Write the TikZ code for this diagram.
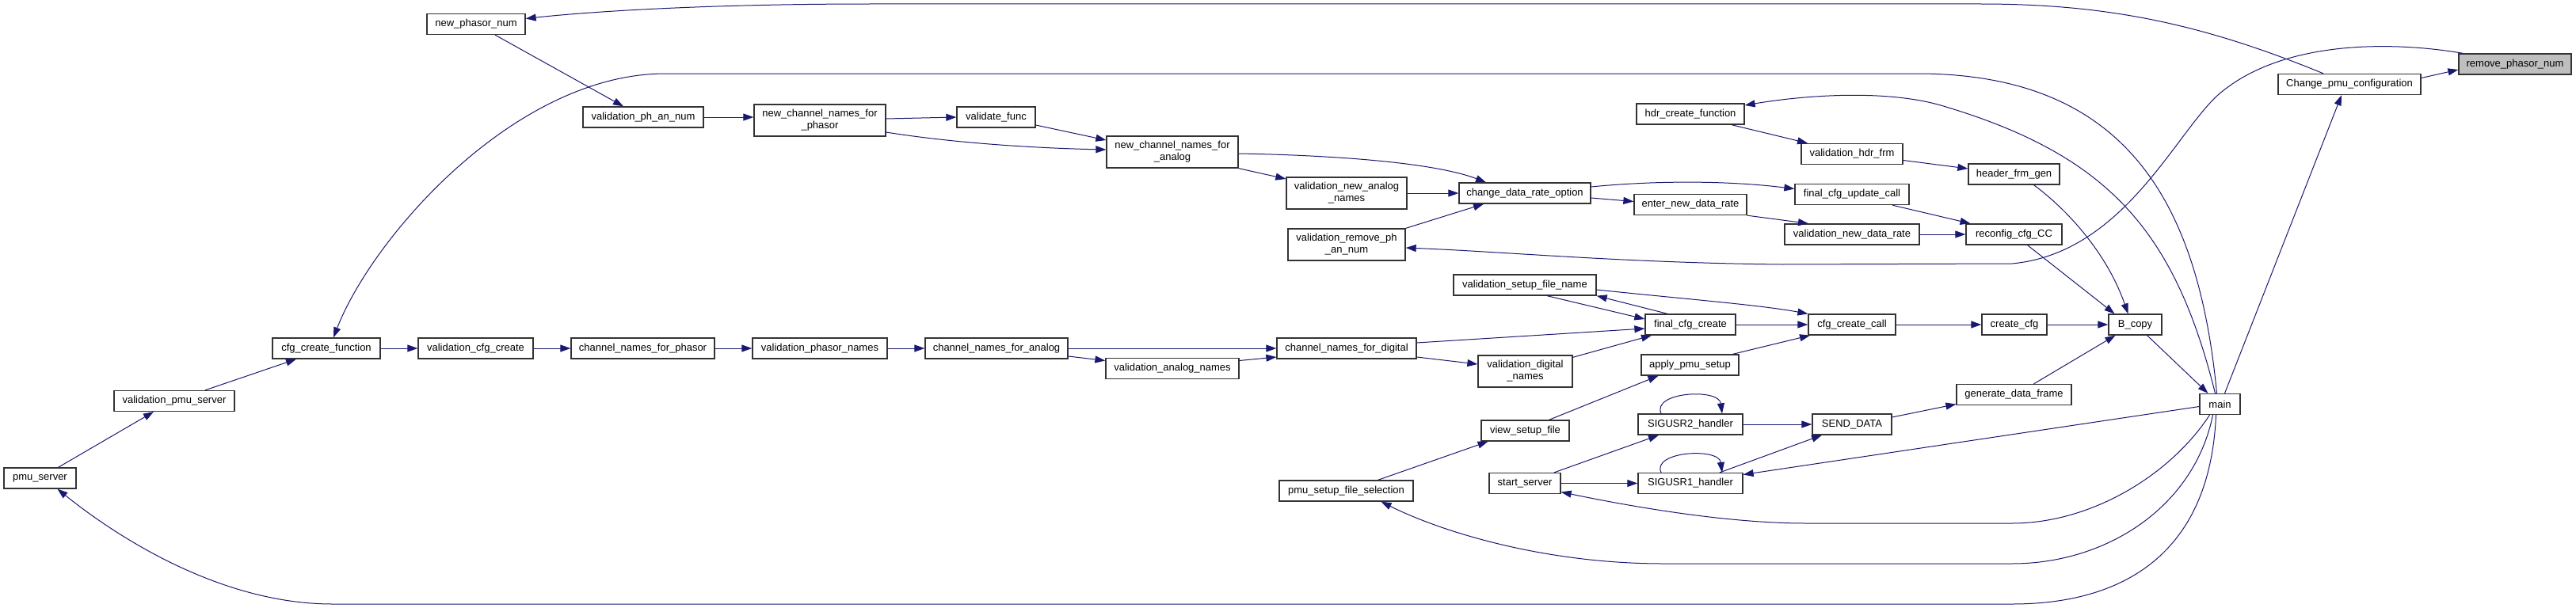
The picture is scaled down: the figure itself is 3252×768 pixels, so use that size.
\documentclass[tikz,border=0pt]{standalone}
\usepackage{fontspec}
\setmainfont{Liberation Sans}
\usetikzlibrary{arrows.meta}
\definecolor{edgeblue}{RGB}{25,25,112}
\definecolor{boxgray}{RGB}{191,191,191}

\begin{document}
\begin{tikzpicture}[
    x=1pt, y=-1pt,
    fn/.style={draw=black!80, line width=1.3pt, fill=white, minimum height=26pt,
      inner sep=0pt, align=center, font=\fontsize{13}{15}\selectfont},
    fntwo/.style={fn, minimum height=40pt},
    call/.style={draw=edgeblue, line width=1pt, -{Triangle[length=13pt,width=9pt]}}
  ]
  \useasboundingbox (0,0) rectangle (3252,768);

  % functions
  \node[fn, minimum width=124pt] (newphasor) at (601,30.5) {new\_phasor\_num};
  \node[fn, minimum width=152pt] (valphan) at (812,148) {validation\_ph\_an\_num};
  \node[fntwo, minimum width=166pt] (newchph) at (1035,152) {new\_channel\_names\_for\\\_phasor};
  \node[fn, minimum width=99pt] (validatefunc) at (1257.5,148) {validate\_func};
  \node[fntwo, minimum width=166pt] (newchan) at (1480,192) {new\_channel\_names\_for\\\_analog};
  \node[fntwo, minimum width=152pt] (valnewan) at (1700,244) {validation\_new\_analog\\\_names};
  \node[fn, minimum width=166pt] (chrate) at (1925,244) {change\_data\_rate\_option};
  \node[fntwo, minimum width=148pt] (valremove) at (1700,309) {validation\_remove\_ph\\\_an\_num};
  \node[fn, minimum width=136pt] (hdrcreate) at (2134,144) {hdr\_create\_function};
  \node[fn, minimum width=128pt] (valhdr) at (2338,194.5) {validation\_hdr\_frm};
  \node[fn, minimum width=144pt] (fincfgupd) at (2338,245.5) {final\_cfg\_update\_call};
  \node[fn, minimum width=142pt] (enterrate) at (2134,258.5) {enter\_new\_data\_rate};
  \node[fn, minimum width=170pt] (valnewrate) at (2338,296) {validation\_new\_data\_rate};
  \node[fn, minimum width=115pt] (headerfrm) at (2542.5,220) {header\_frm\_gen};
  \node[fn, minimum width=121pt] (reconfig) at (2542.5,296) {reconfig\_cfg\_CC};
  \node[fn, minimum width=180pt] (setupname) at (1925,360) {validation\_setup\_file\_name};
  \node[fn, minimum width=114pt] (fincfgcreate) at (2134,410) {final\_cfg\_create};
  \node[fn, minimum width=110pt] (cfgcall) at (2338,410) {cfg\_create\_call};
  \node[fn, minimum width=82pt] (createcfg) at (2543,410) {create\_cfg};
  \node[fn, minimum width=67pt] (bcopy) at (2695.5,410) {B\_copy};
  \node[fn, minimum width=51pt] (main) at (2802.5,510.5) {main};
  \node[fn, minimum width=176pt] (chdigital) at (1700,440) {channel\_names\_for\_digital};
  \node[fntwo, minimum width=119pt] (valdigital) at (1925.5,469) {validation\_digital\\\_names};
  \node[fn, minimum width=123pt] (applysetup) at (2133.5,461) {apply\_pmu\_setup};
  \node[fn, minimum width=111pt] (viewsetup) at (1925.5,544) {view\_setup\_file};
  \node[fn, minimum width=132pt] (sigusrtwo) at (2134,536) {SIGUSR2\_handler};
  \node[fn, minimum width=100pt] (senddata) at (2338,536) {SEND\_DATA};
  \node[fn, minimum width=90pt] (startserver) at (1925,610.5) {start\_server};
  \node[fn, minimum width=132pt] (sigusrone) at (2134,610.5) {SIGUSR1\_handler};
  \node[fn, minimum width=169pt] (setupsel) at (1699.5,620) {pmu\_setup\_file\_selection};
  \node[fn, minimum width=145pt] (genframe) at (2542.5,498.5) {generate\_data\_frame};
  \node[fn, minimum width=142pt, fill=boxgray] (removephasor) at (3175,81) {remove\_phasor\_num};
  \node[fn, minimum width=180pt] (changepmu) at (2966,106.5) {Change\_pmu\_configuration};
  \node[fn, minimum width=136pt] (cfgfunc) at (412,440) {cfg\_create\_function};
  \node[fn, minimum width=145pt] (valcfg) at (600.5,440) {validation\_cfg\_create};
  \node[fn, minimum width=181pt] (chphasor) at (811.5,440) {channel\_names\_for\_phasor};
  \node[fn, minimum width=170pt] (valphasor) at (1035,440) {validation\_phasor\_names};
  \node[fn, minimum width=180pt] (chanalog) at (1258,440) {channel\_names\_for\_analog};
  \node[fn, minimum width=168pt] (valanalog) at (1480,465.5) {validation\_analog\_names};
  \node[fn, minimum width=152pt] (valpmuserver) at (220,506.5) {validation\_pmu\_server};
  \node[fn, minimum width=91pt] (pmuserver) at (50.5,604) {pmu\_server};

  % calls
  \draw[call] ([xshift=-33pt]changepmu.north) .. controls (2780,30) and (2660,5) .. (2500,5)
    -- (1100,5) .. controls (900,5) and (750,14) .. ([yshift=7pt]newphasor.east);
  \draw[call] ([yshift=8pt]changepmu.east) -- ([yshift=-7pt]removephasor.west);
  \draw[call] ([xshift=6pt]removephasor.north west) .. controls (3020,52) and (2880,50) .. (2800,120)
    .. controls (2745,170) and (2680,320) .. (2540,333) -- (2250,334)
    .. controls (2050,332) and (1900,318) .. ([yshift=-4pt]valremove.east);
  \draw[call] ([xshift=6pt]main.north) -- ([xshift=-10pt]changepmu.south);
  \draw[call] ([xshift=24pt]newphasor.south) -- ([xshift=-25pt]valphan.north);
  \draw[call] (valphan.east) -- (valphan.east -| newchph.west);
  \draw[call] ([yshift=2pt]newchph.east) -- (validatefunc.west);
  \draw[call] ([yshift=-15pt]newchph.east) .. controls (1200,180) and (1300,187) .. ([yshift=3pt]newchan.west);
  \draw[call] ([yshift=-10pt]validatefunc.east) -- ([yshift=15pt]newchan.west);
  \draw[call] (newchan.south east) -- ([yshift=18pt]valnewan.west);
  \draw[call] ([yshift=-2pt]newchan.east) .. controls (1680,196) and (1810,205) .. ([xshift=-49pt]chrate.north);
  \draw[call] (valnewan.east) -- (chrate.west);
  \draw[call] (valremove.north east) -- ([xshift=-52pt]chrate.south);
  \draw[call] ([yshift=8pt]chrate.east) .. controls (2090,228) and (2180,228) .. ([yshift=7pt]fincfgupd.west);
  \draw[call] ([yshift=-6pt]chrate.east) -- ([yshift=4pt]enterrate.west);
  \draw[call] (enterrate.south east) -- ([xshift=-55pt]valnewrate.north);
  \draw[call] ([xshift=52pt]hdrcreate.south) -- ([xshift=-56pt]valhdr.north);
  \draw[call] ([yshift=-8pt]valhdr.east) -- ([yshift=7pt]headerfrm.west);
  \draw[call] ([xshift=51pt]fincfgupd.south) -- ([xshift=-55pt]reconfig.north);
  \draw[call] (valnewrate.east) -- (reconfig.west);
  \draw[call] ([xshift=-4pt]main.north) .. controls (2775,250) and (2680,93) .. (2420,93)
    -- (840,93) .. controls (650,93) and (470,300) .. ([xshift=9pt]cfgfunc.north);
  \draw[call] ([xshift=-6pt]main.north) .. controls (2745,290) and (2660,195) .. (2450,133)
    .. controls (2380,113) and (2280,120) .. ([yshift=11pt]hdrcreate.east);
  \draw[call] ([xshift=25pt]headerfrm.south) .. controls (2610,265) and (2660,320) .. ([xshift=-9pt]bcopy.north);
  \draw[call] ([xshift=17pt]reconfig.south) -- ([xshift=-26pt]bcopy.north);
  \draw[call] (cfgcall.east) -- (createcfg.west);
  \draw[call] (createcfg.east) -- (bcopy.west);
  \draw[call] ([xshift=25pt]genframe.north) -- ([xshift=-25pt]bcopy.south);
  \draw[call] ([xshift=15pt]bcopy.south) -- ([xshift=-15pt]main.north);
  \draw[call] ([yshift=9pt]senddata.east) -- ([yshift=-12pt]genframe.west);
  \draw[call] ([yshift=-3pt]main.west) -- ([yshift=11pt]sigusrone.east);
  \draw[call] ([xshift=-13pt]main.south) .. controls (2740,600) and (2640,661) .. (2540,661)
    -- (2280,661) .. controls (2180,661) and (2060,640) .. ([yshift=-11pt]startserver.east);
  \draw[call] ([xshift=-9pt]main.south) .. controls (2770,640) and (2660,712) .. (2540,712)
    -- (2100,712) .. controls (1950,712) and (1820,672) .. ([xshift=44pt]setupsel.south);
  \draw[call] ([xshift=-5pt]main.south) .. controls (2790,700) and (2680,763) .. (2540,763)
    -- (420,763) .. controls (280,763) and (150,680) .. ([xshift=22pt]pmuserver.south);
  \draw[call] ([xshift=23pt]pmuserver.north) -- ([xshift=-26pt]valpmuserver.south);
  \draw[call] ([xshift=39pt]valpmuserver.north) -- ([xshift=-38pt]cfgfunc.south);
  \draw[call] (cfgfunc.east) -- (valcfg.west);
  \draw[call] (valcfg.east) -- (chphasor.west);
  \draw[call] (chphasor.east) -- (valphasor.west);
  \draw[call] (valphasor.east) -- (chanalog.west);
  \draw[call] (chanalog.east) -- (chdigital.west);
  \draw[call] ([yshift=-10pt]chanalog.east) -- ([yshift=10pt]valanalog.west);
  \draw[call] ([yshift=10pt]valanalog.east) -- ([yshift=-11pt]chdigital.west);
  \draw[call] ([yshift=7pt]chdigital.east) -- ([yshift=-5pt]fincfgcreate.west);
  \draw[call] ([yshift=-11pt]chdigital.east) -- ([yshift=9pt]valdigital.west);
  \draw[call] ([yshift=-3pt]valdigital.north east) -- ([xshift=-49pt]fincfgcreate.south);
  \draw[call] (fincfgcreate.east) -- (cfgcall.west);
  \draw[call] ([xshift=54pt]applysetup.north) -- ([xshift=-53pt]cfgcall.south);
  \draw[call] ([xshift=30pt]viewsetup.north) -- ([xshift=-40pt]applysetup.south);
  \draw[call] ([xshift=40pt]setupsel.north) -- ([xshift=-47pt]viewsetup.south);
  \draw[call] ([xshift=37pt]startserver.north) -- ([xshift=-40pt]sigusrtwo.south);
  \draw[call] (startserver.east) -- (sigusrone.west);
  \draw[call] ([xshift=-37pt]sigusrtwo.north) .. controls (2085,495) and (2170,490) .. ([xshift=40pt]sigusrtwo.north);
  \draw[call] ([xshift=-37pt]sigusrone.north) .. controls (2085,570) and (2170,565) .. ([xshift=40pt]sigusrone.north);
  \draw[call] (sigusrtwo.east) -- (senddata.west);
  \draw[call] ([xshift=37pt]sigusrone.north) -- ([xshift=-38pt]senddata.south);
  \draw[call] ([xshift=28pt]setupname.south) -- ([yshift=7pt]fincfgcreate.west);
  \draw[call] ([xshift=-29pt]fincfgcreate.north) -- (setupname.south east);
  \draw[call] ([yshift=-6pt]setupname.east) .. controls (2130,378) and (2220,385) .. (cfgcall.north west);
\end{tikzpicture}
\end{document}
